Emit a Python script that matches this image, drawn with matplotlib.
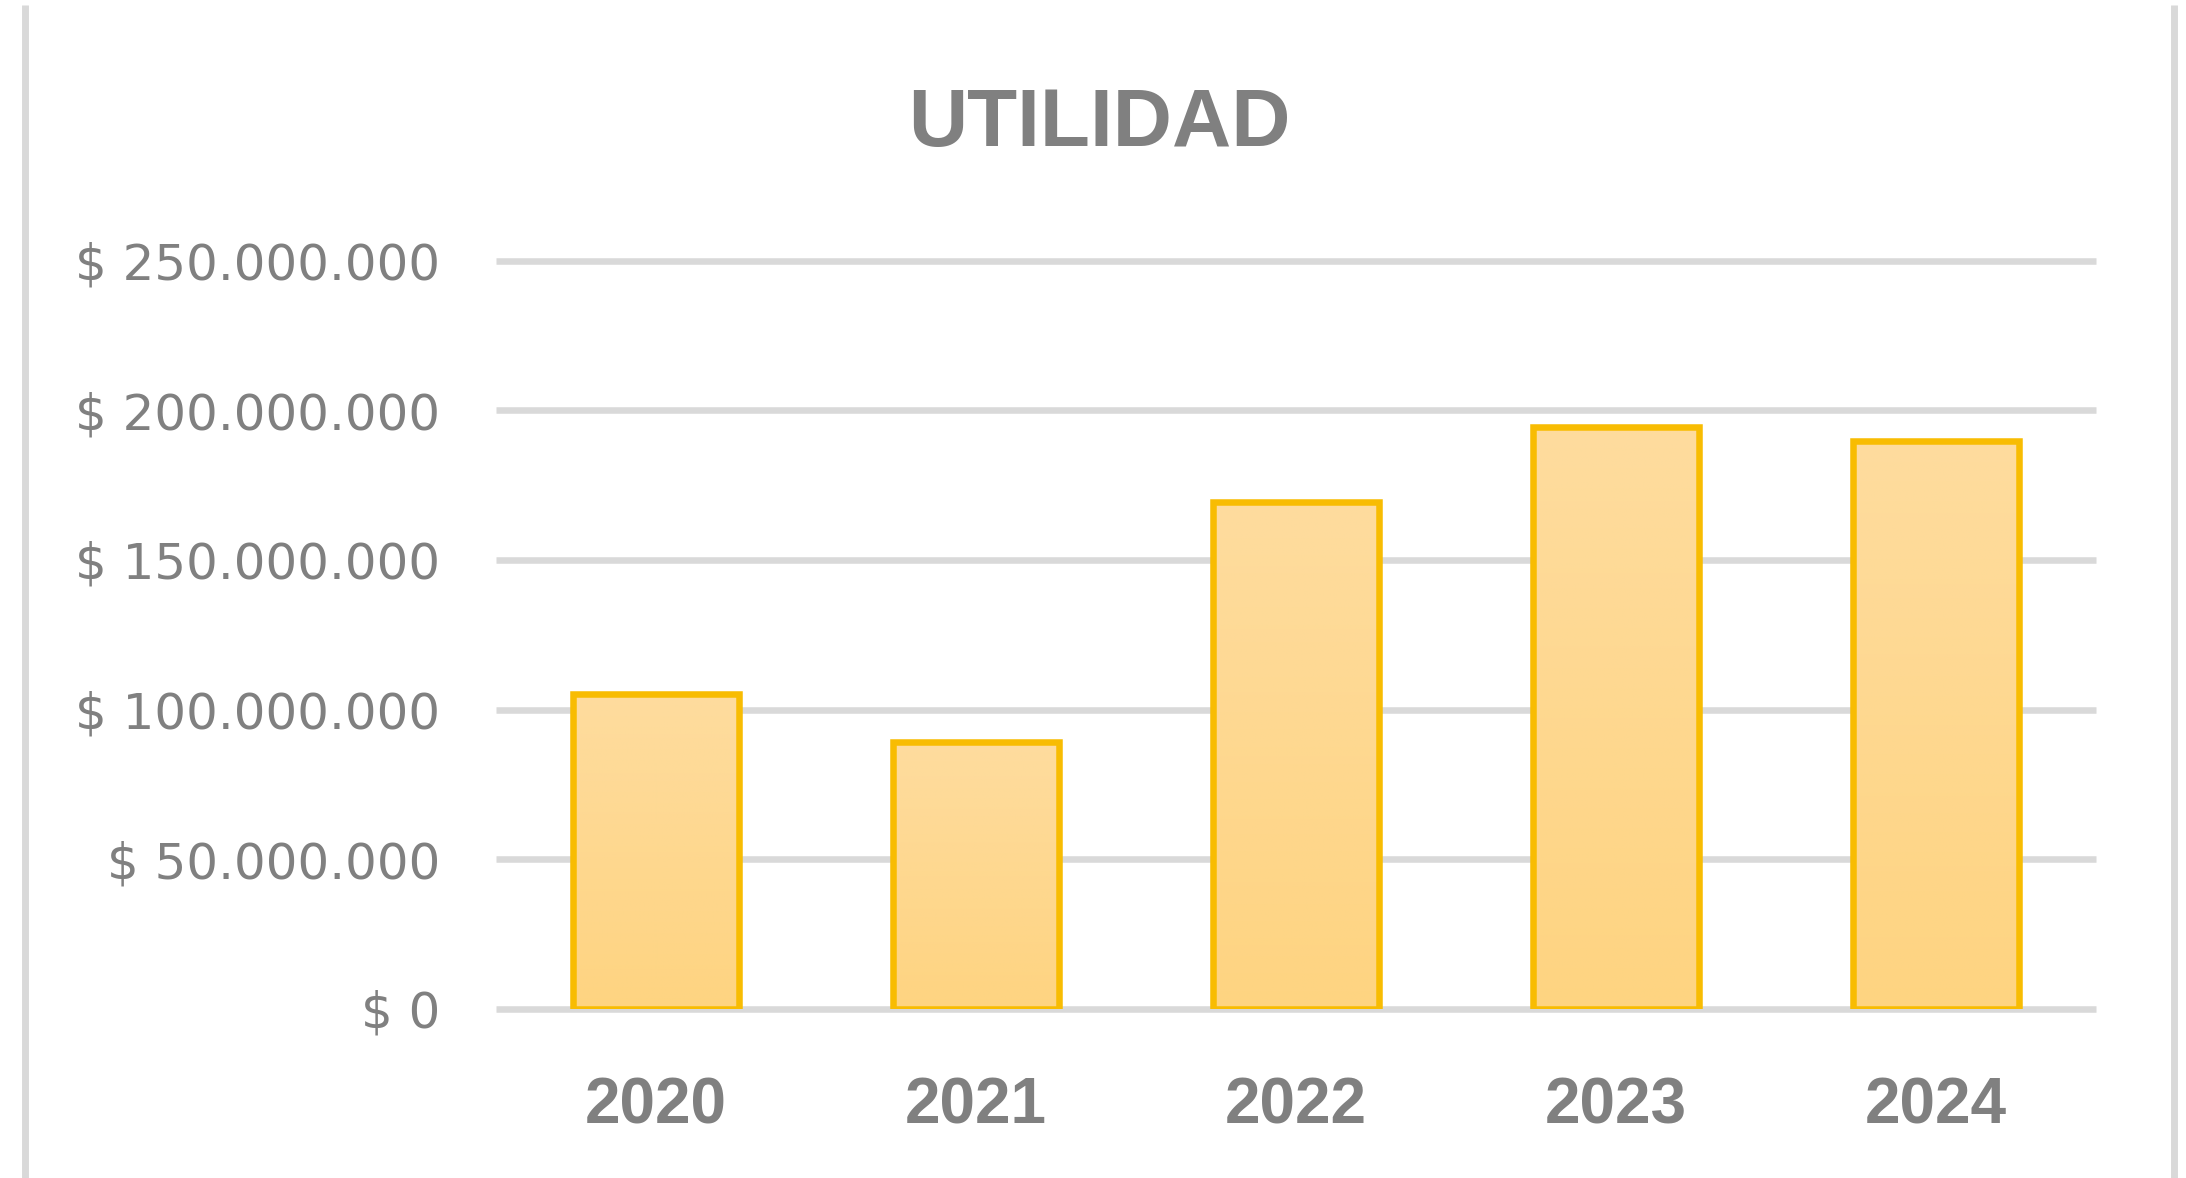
import matplotlib
matplotlib.use("Agg")
import matplotlib.pyplot as plt
import matplotlib.ticker as mticker
from matplotlib.lines import Line2D
from matplotlib.colors import LinearSegmentedColormap
import numpy as np

# ---- data ----
years = ["2020", "2021", "2022", "2023", "2024"]
utilidad = [105_100_000, 89_100_000, 169_300_000, 194_400_000, 189_600_000]
y_ticks = [0, 50_000_000, 100_000_000, 150_000_000, 200_000_000, 250_000_000]
title = "UTILIDAD"

GRAY_TXT = "#808080"
GRID = "#d9d9d9"
EDGE = "#f8bc02"
TOP_FILL = "#fedc9e"
BOT_FILL = "#fed481"

DPI = 100
W, H = 2186, 1178
fig = plt.figure(figsize=(W / DPI, H / DPI), dpi=DPI)
fig.patch.set_facecolor("white")

left, right = 496 / W, 2096 / W
bottom, top = 1 - 1008.7 / H, 1 - 260.7 / H
ax = fig.add_axes([left, bottom, right - left, top - bottom])

x = np.arange(len(years))
bw = 0.52

cmap = LinearSegmentedColormap.from_list("g", [BOT_FILL, TOP_FILL])
grad = np.linspace(0, 1, 256).reshape(-1, 1)
for xi, v in zip(x, utilidad):
    ax.imshow(grad, extent=(xi - bw / 2, xi + bw / 2, 0, v), origin="lower",
              cmap=cmap, aspect="auto", zorder=2, interpolation="bilinear")

ax.bar(x, utilidad, width=bw, facecolor="none", edgecolor=EDGE,
       linewidth=4.7, zorder=3)

ax.set_xlim(-0.5, len(years) - 0.5)
ax.set_ylim(0, 250_000_000)

for t in y_ticks:
    ax.axhline(t, color=GRID, linewidth=4.7, zorder=1, clip_on=False,
               solid_capstyle="butt")

ax.set_yticks(y_ticks)


def fmt(v, pos):
    s = f"{int(v):,}".replace(",", ".")
    return f"$ {s}"


ax.yaxis.set_major_formatter(mticker.FuncFormatter(fmt))
ax.set_xticks(x)
ax.set_xticklabels(years)

ax.tick_params(axis="y", length=0, pad=40, labelsize=36, labelcolor=GRAY_TXT)
ax.tick_params(axis="x", length=0, pad=49, labelsize=46, labelcolor=GRAY_TXT)
for lab in ax.get_yticklabels():
    lab.set_fontfamily("DejaVu Sans")
for lab in ax.get_xticklabels():
    lab.set_fontfamily("Liberation Sans")
    lab.set_fontweight("bold")

for sp in ax.spines.values():
    sp.set_visible(False)
ax.set_facecolor("none")

fig.text(1099 / W, 1 - 146 / H, title, ha="center", va="baseline",
         fontsize=59, fontweight="bold", color=GRAY_TXT,
         family="Liberation Sans")

# chart-area side borders
for xb in (24.5 / W, 2173.5 / W):
    fig.add_artist(Line2D([xb, xb], [0, 1 - 5 / H], transform=fig.transFigure,
                          color=GRID, linewidth=5.0, solid_capstyle="butt"))

fig.savefig("out.png", dpi=DPI, facecolor="white")
